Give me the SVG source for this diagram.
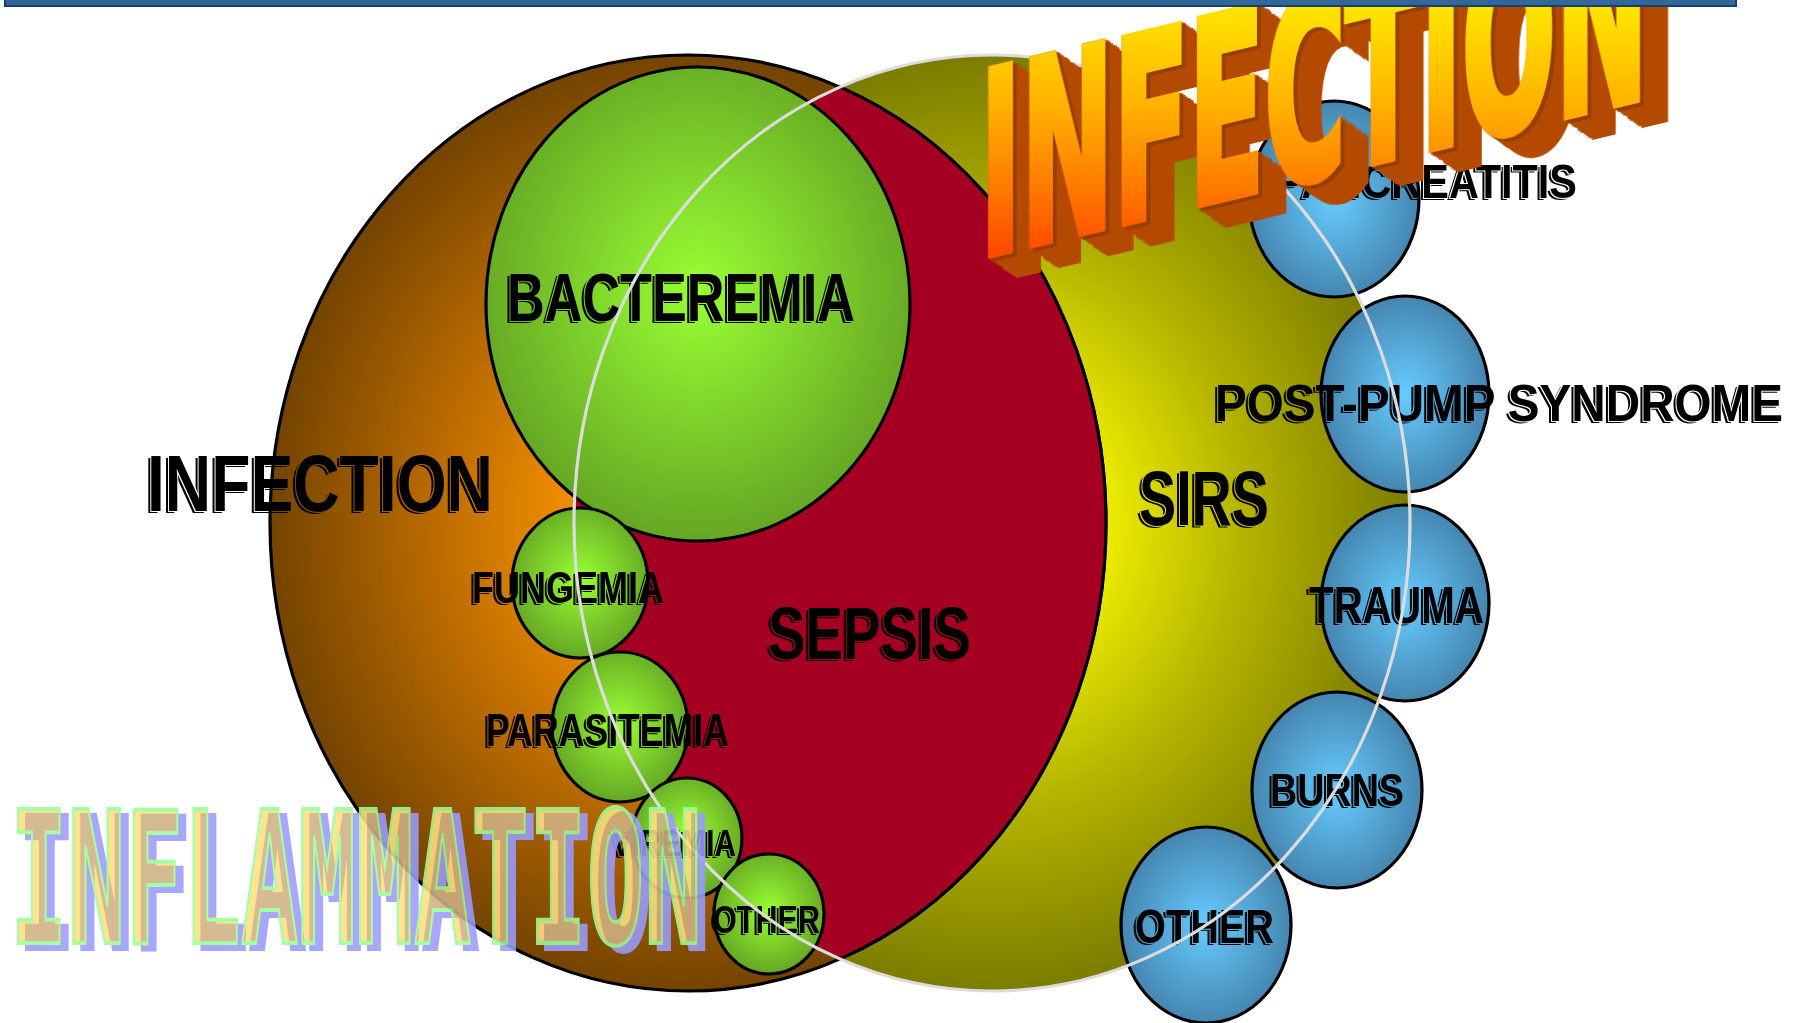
<svg xmlns="http://www.w3.org/2000/svg" width="1803" height="1023" viewBox="0 0 1803 1023">
<defs>
  <style>
    .lbl { font-family: "Liberation Sans", Arial, sans-serif; font-weight: bold; fill: #000; filter: url(#lblShadow); }
    .grn { fill: url(#gGreen); stroke: #000; stroke-width: 3.2; }
    .blu { fill: url(#gBlue); stroke: #000; stroke-width: 3.2; }
  </style>
  <radialGradient id="gInf" cx="50%" cy="50%" r="50%">
    <stop offset="0" stop-color="#ff9c00"/>
    <stop offset="0.3" stop-color="#ee8c00"/>
    <stop offset="0.6" stop-color="#bc6c00"/>
    <stop offset="1" stop-color="#744400"/>
  </radialGradient>
  <radialGradient id="gSirs" cx="50%" cy="50%" r="50%">
    <stop offset="0" stop-color="#ffff00"/>
    <stop offset="0.28" stop-color="#ebeb00"/>
    <stop offset="0.6" stop-color="#b4b400"/>
    <stop offset="1" stop-color="#7c7c00"/>
  </radialGradient>
  <radialGradient id="gGreen" cx="50%" cy="47%" r="52%">
    <stop offset="0" stop-color="#99ff33"/>
    <stop offset="1" stop-color="#66a824"/>
  </radialGradient>
  <radialGradient id="gBlue" cx="50%" cy="50%" r="50%">
    <stop offset="0" stop-color="#66ccff"/>
    <stop offset="1" stop-color="#4586b0"/>
  </radialGradient>
  <linearGradient id="gFace" gradientUnits="userSpaceOnUse" x1="0" y1="-247" x2="-55.6" y2="-15.3">
    <stop offset="0" stop-color="#ffe400"/>
    <stop offset="0.4" stop-color="#ffb000"/>
    <stop offset="0.7" stop-color="#ff7e00"/>
    <stop offset="1" stop-color="#ff4800"/>
  </linearGradient>
  <clipPath id="clipSirs">
    <ellipse cx="992" cy="523" rx="418" ry="468"/>
  </clipPath>
  <filter id="lblShadow" x="-5%" y="-15%" width="110%" height="135%" color-interpolation-filters="sRGB">
    <feMorphology in="SourceAlpha" operator="dilate" radius="1" result="dil"/>
    <feOffset in="SourceAlpha" dx="-3" dy="2" result="off"/>
    <feComposite in="off" in2="dil" operator="out" result="sh"/>
    <feMerge><feMergeNode in="sh"/><feMergeNode in="SourceGraphic"/></feMerge>
  </filter>
  <filter id="extrude" filterUnits="userSpaceOnUse" x="-30" y="-270" width="790" height="340" color-interpolation-filters="sRGB">
    <feOffset in="SourceAlpha" dx="1.9" dy="1.7" result="o1"/>
    <feMerge result="m1"><feMergeNode in="SourceAlpha"/><feMergeNode in="o1"/></feMerge>
    <feOffset in="m1" dx="3.8" dy="3.4" result="o2"/>
    <feMerge result="m2"><feMergeNode in="m1"/><feMergeNode in="o2"/></feMerge>
    <feOffset in="m2" dx="7.5" dy="6.8" result="o3"/>
    <feMerge result="m3"><feMergeNode in="m2"/><feMergeNode in="o3"/></feMerge>
    <feOffset in="m3" dx="15" dy="13.6" result="o4"/>
    <feMerge result="m4"><feMergeNode in="m3"/><feMergeNode in="o4"/></feMerge>
    <feFlood flood-color="#b34a00"/>
    <feComposite in2="m4" operator="in" result="ext"/>
    <feOffset in="SourceAlpha" dx="4" dy="3.6" result="s1"/>
    <feComposite in="s1" in2="SourceAlpha" operator="out" result="s2"/>
    <feFlood flood-color="#8e3a00" flood-opacity="0.7"/>
    <feComposite in2="s2" operator="in" result="edge"/>
    <feMerge><feMergeNode in="ext"/><feMergeNode in="edge"/><feMergeNode in="SourceGraphic"/></feMerge>
  </filter>
  <filter id="inflam" x="-3%" y="-8%" width="108%" height="120%" color-interpolation-filters="sRGB">
    <feOffset in="SourceAlpha" dx="8" dy="3.1" result="off"/>
    <feFlood flood-color="#9b9bff"/>
    <feComposite in2="off" operator="in" result="lav"/>
    <feFlood flood-color="#d0b285"/>
    <feComposite in2="off" operator="in" result="tan0"/>
    <feComposite in="tan0" in2="SourceAlpha" operator="in" result="tan"/>
    <feColorMatrix in="SourceGraphic" type="matrix" values="0 0 0 0 0.6  0 0 0 0 1  0 0 0 0 0.6  -2.5 0 0 2.5 0" result="grnline"/>
    <feMerge><feMergeNode in="lav"/><feMergeNode in="SourceGraphic"/><feMergeNode in="tan"/><feMergeNode in="grnline"/></feMerge>
  </filter>
</defs>

<rect width="1803" height="1023" fill="#ffffff"/>

<g id="sirs-region">
  <ellipse cx="992" cy="523" rx="418" ry="468" fill="url(#gSirs)"/>
</g>
<g id="infection-region">
  <ellipse cx="688" cy="523" rx="418" ry="468" fill="url(#gInf)" stroke="#000" stroke-width="3.2"/>
</g>
<g id="sepsis-region">
  <ellipse cx="688" cy="523" rx="418" ry="468" fill="#a50021" stroke="#000" stroke-width="3.2" clip-path="url(#clipSirs)"/>
</g>

<g id="bacteremia"><ellipse class="grn" cx="698" cy="304" rx="212" ry="237"/></g>
<g id="fungemia"><ellipse class="grn" cx="580" cy="583" rx="68" ry="75"/></g>
<g id="parasitemia"><ellipse class="grn" cx="620" cy="727" rx="68" ry="75"/></g>
<g id="viremia"><ellipse class="grn" cx="687" cy="838" rx="55" ry="60"/></g>
<g id="other-infection"><ellipse class="grn" cx="769" cy="914" rx="55" ry="60"/></g>

<g id="pancreatitis"><ellipse class="blu" cx="1334" cy="199" rx="85" ry="98"/></g>
<g id="post-pump"><ellipse class="blu" cx="1405" cy="394" rx="84" ry="98"/></g>
<g id="trauma"><ellipse class="blu" cx="1405" cy="603" rx="84" ry="98"/></g>
<g id="burns"><ellipse class="blu" cx="1337" cy="790" rx="85" ry="98"/></g>
<g id="other-sirs"><ellipse class="blu" cx="1206" cy="925" rx="85" ry="98"/></g>

<g id="labels">
  <text class="lbl" x="507" y="321" font-size="69" textLength="348" lengthAdjust="spacingAndGlyphs">BACTEREMIA</text>
  <text class="lbl" x="147" y="511" font-size="79" textLength="346" lengthAdjust="spacingAndGlyphs">INFECTION</text>
  <text class="lbl" x="472" y="603" font-size="45" textLength="192" lengthAdjust="spacingAndGlyphs">FUNGEMIA</text>
  <text class="lbl" x="486" y="746" font-size="46" textLength="243" lengthAdjust="spacingAndGlyphs">PARASITEMIA</text>
  <text class="lbl" x="612" y="856" font-size="36" textLength="124" lengthAdjust="spacingAndGlyphs">VIREMIA</text>
  <text class="lbl" x="713" y="933" font-size="39" textLength="107" lengthAdjust="spacingAndGlyphs">OTHER</text>
  <text class="lbl" x="768" y="659" font-size="75" textLength="203" lengthAdjust="spacingAndGlyphs">SEPSIS</text>
  <text class="lbl" x="1139" y="525" font-size="77" textLength="130" lengthAdjust="spacingAndGlyphs">SIRS</text>
  <text class="lbl" x="1215" y="421" font-size="52" textLength="568" lengthAdjust="spacingAndGlyphs">POST-PUMP SYNDROME</text>
  <text class="lbl" x="1309" y="623" font-size="52" textLength="175" lengthAdjust="spacingAndGlyphs">TRAUMA</text>
  <text class="lbl" x="1270" y="806" font-size="46" textLength="134" lengthAdjust="spacingAndGlyphs">BURNS</text>
  <text class="lbl" x="1135" y="943" font-size="49" textLength="139" lengthAdjust="spacingAndGlyphs">OTHER</text>
  <text class="lbl" x="1277" y="198" font-size="49" textLength="300" lengthAdjust="spacingAndGlyphs">PANCREATITIS</text>
</g>

<g id="sirs-outline">
  <ellipse cx="992" cy="523" rx="418" ry="468" fill="none" stroke="#dcdcdc" stroke-width="3.2"/>
</g>

<g id="wordart-infection" transform="translate(980,257) skewY(-13.5)">
  <text x="0" y="0" font-family="'DejaVu Sans Condensed','DejaVu Sans',sans-serif" font-weight="bold" font-size="254" textLength="668" lengthAdjust="spacingAndGlyphs" fill="url(#gFace)" stroke="url(#gFace)" stroke-width="8" stroke-linejoin="miter" filter="url(#extrude)">INFECTION</text>
</g>

<g id="wordart-inflammation" transform="translate(10,943) scale(1,1.95)" opacity="0.88">
  <text x="0" y="0" font-family="'DejaVu Sans Mono','Liberation Mono',monospace" font-weight="bold" font-size="94" textLength="692" lengthAdjust="spacingAndGlyphs" fill="#ffe080" stroke="#99ff99" stroke-width="3" vector-effect="non-scaling-stroke" filter="url(#inflam)">INFLAMMATION</text>
</g>

<g id="top-bar">
  <rect x="5" y="-3" width="1731" height="9" fill="#336699" stroke="#17406b" stroke-width="2"/>
</g>
</svg>
